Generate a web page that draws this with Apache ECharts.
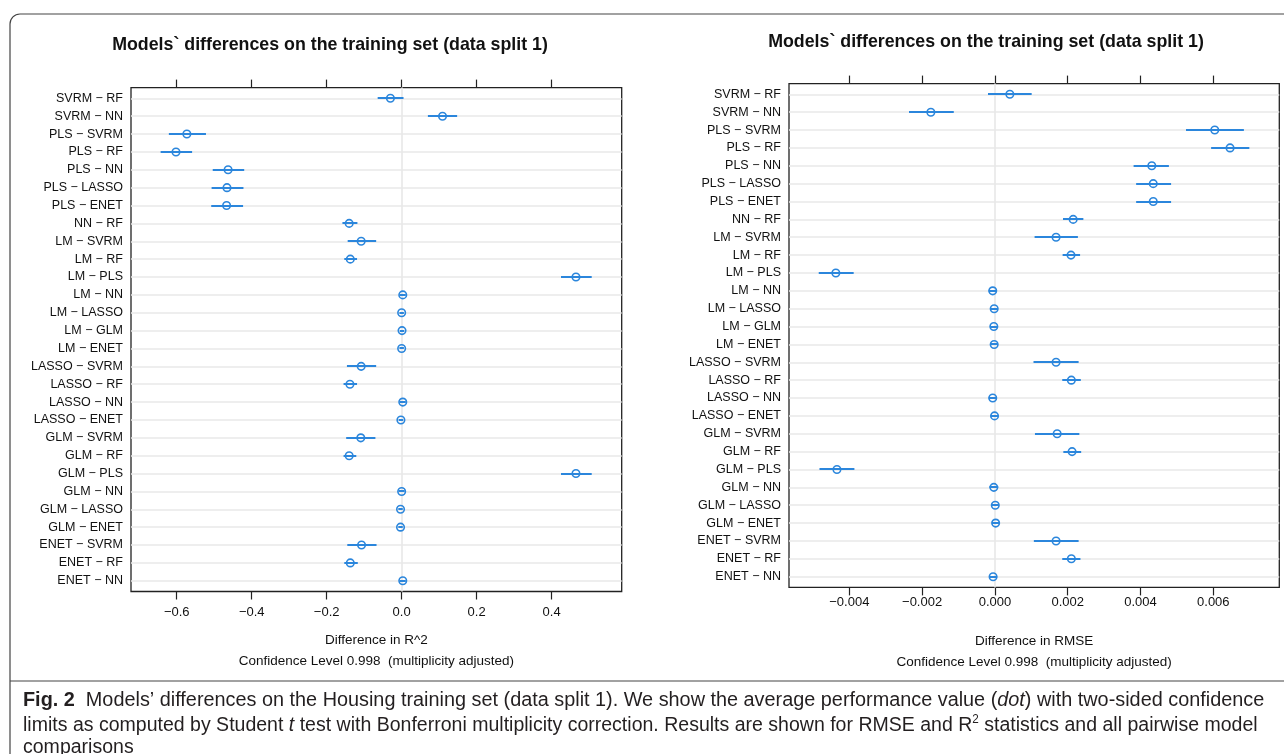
<!DOCTYPE html>
<html>
<head>
<meta charset="utf-8">
<title>Models' differences on the training set</title>
<script src="https://cdn.jsdelivr.net/npm/echarts@6.0.0/dist/echarts.min.js"></script>
<style>
  html, body { margin: 0; padding: 0; background: #fff; }
  #main { width: 1284px; height: 754px; }
</style>
</head>
<body>
<div id="main"></div>
<script>
// pairwise comparisons, top row first
const pairs = [
  'SVRM − RF', 'SVRM − NN', 'PLS − SVRM', 'PLS − RF', 'PLS − NN', 'PLS − LASSO', 'PLS − ENET',
  'NN − RF', 'LM − SVRM', 'LM − RF', 'LM − PLS', 'LM − NN', 'LM − LASSO', 'LM − GLM', 'LM − ENET',
  'LASSO − SVRM', 'LASSO − RF', 'LASSO − NN', 'LASSO − ENET', 'GLM − SVRM', 'GLM − RF', 'GLM − PLS',
  'GLM − NN', 'GLM − LASSO', 'GLM − ENET', 'ENET − SVRM', 'ENET − RF', 'ENET − NN'
];

// difference in R^2
const r2Mean = [-0.030, 0.109, -0.573, -0.602, -0.463, -0.466, -0.467, -0.140, -0.108, -0.137, 0.465, 0.003, 0.000, 0.001,
  0.000, -0.108, -0.138, 0.003, -0.002, -0.109, -0.140, 0.465, 0.000, -0.003, -0.003, -0.107, -0.137, 0.003];
const r2Lower = [-0.064, 0.070, -0.621, -0.643, -0.504, -0.507, -0.508, -0.158, -0.144, -0.153, 0.425, -0.005, -0.006, -0.005,
  -0.006, -0.146, -0.155, -0.005, -0.008, -0.148, -0.155, 0.425, -0.008, -0.009, -0.009, -0.145, -0.153, -0.005];
const r2Upper = [0.005, 0.148, -0.522, -0.559, -0.420, -0.422, -0.423, -0.118, -0.068, -0.119, 0.507, 0.011, 0.006, 0.007,
  0.006, -0.068, -0.119, 0.011, 0.004, -0.070, -0.121, 0.507, 0.008, 0.003, 0.003, -0.067, -0.117, 0.011];

// difference in RMSE
const rmseMean = [0.00041, -0.00176, 0.00604, 0.00646, 0.00431, 0.00435, 0.00435, 0.00215, 0.00168, 0.00209, -0.00437,
  -0.00006, -0.00002, -0.00003, -0.00002, 0.00168, 0.00210, -0.00006, -0.00001, 0.00171, 0.00212, -0.00434,
  -0.00003, 0.00001, 0.00002, 0.00168, 0.00210, -0.00005];
const rmseLower = [-0.00019, -0.00236, 0.00525, 0.00594, 0.00381, 0.00388, 0.00388, 0.00187, 0.00109, 0.00186, -0.00484,
  -0.00017, -0.00012, -0.00013, -0.00012, 0.00106, 0.00185, -0.00017, -0.00011, 0.00110, 0.00188, -0.00482,
  -0.00015, -0.00009, -0.00008, 0.00107, 0.00185, -0.00016];
const rmseUpper = [0.00101, -0.00113, 0.00684, 0.00699, 0.00478, 0.00484, 0.00484, 0.00243, 0.00228, 0.00234, -0.00388,
  0.00005, 0.00008, 0.00007, 0.00008, 0.00230, 0.00236, 0.00005, 0.00009, 0.00232, 0.00237, -0.00386,
  0.00009, 0.00011, 0.00012, 0.00230, 0.00235, 0.00006];

const r2Ticks = [-0.6, -0.4, -0.2, 0.0, 0.2, 0.4];
const rmseTicks = [-0.004, -0.002, 0.000, 0.002, 0.004, 0.006];

const rows = pairs.map((p, i) => i);
const blue = '#2b86dc';
const font = '"Liberation Sans", Arial, Helvetica, sans-serif';
const chart = echarts.init(document.getElementById('main'));

function minusFmt(digits) {
  return function (v) {
    const s = Math.abs(v).toFixed(digits);
    return (v < -1e-12 ? '−' : '') + s;
  };
}

function xAxes(grid, min, max, ticks, digits, name, nameGap, labelMargin) {
  const tickStyle = { show: true, inside: false, length: 8, customValues: ticks, lineStyle: { color: '#222', width: 1.2 } };
  const bottom = {
    type: 'value', gridIndex: grid, position: 'bottom', min: min, max: max,
    axisLine: { show: false, onZero: false },
    axisTick: tickStyle,
    axisLabel: { customValues: ticks, formatter: minusFmt(digits), color: '#111', fontSize: 13, fontFamily: font, margin: labelMargin },
    splitLine: { show: false },
    name: name, nameLocation: 'middle', nameGap: nameGap,
    nameTextStyle: { color: '#111', fontSize: 13.5, fontFamily: font, lineHeight: 21, verticalAlign: 'top' }
  };
  const top = {
    type: 'value', gridIndex: grid, position: 'top', min: min, max: max,
    axisLine: { show: false, onZero: false },
    axisTick: tickStyle,
    axisLabel: { show: false },
    splitLine: { show: false }
  };
  return [bottom, top];
}

function yAxis(grid) {
  return {
    type: 'value', gridIndex: grid, inverse: true, min: -0.6, max: pairs.length - 0.4,
    axisLine: { show: false, onZero: false },
    axisTick: { show: false },
    splitLine: { show: false },
    axisLabel: {
      customValues: rows, formatter: v => pairs[Math.round(v)],
      color: '#111', fontSize: 12.5, fontFamily: font, margin: 8
    }
  };
}

function panelSeries(grid, mean, lower, upper) {
  const xi = grid * 2;
  return [
    {
      // row reference lines and the zero line, kept under the marks
      type: 'line', xAxisIndex: xi, yAxisIndex: grid, data: [], silent: true, z: 1,
      markLine: {
        silent: true, symbol: 'none', animation: false, z: 1,
        label: { show: false },
        lineStyle: { color: '#e8e8e8', type: 'solid', width: 1.6 },
        data: rows.map(i => ({ yAxis: i })).concat([{ xAxis: 0 }])
      }
    },
    {
      type: 'custom', xAxisIndex: xi, yAxisIndex: grid, z: 6, silent: true,
      data: rows.map(i => [lower[i], upper[i], i]),
      encode: { x: [0, 1], y: 2 },
      renderItem: function (params, api) {
        const a = api.coord([api.value(0), api.value(2)]);
        const b = api.coord([api.value(1), api.value(2)]);
        const y = Math.round(a[1]);
        return {
          type: 'line',
          shape: { x1: a[0], y1: y, x2: b[0], y2: y },
          style: { stroke: blue, lineWidth: 2 }
        };
      }
    },
    {
      type: 'scatter', xAxisIndex: xi, yAxisIndex: grid, z: 7, silent: true,
      data: rows.map(i => [mean[i], i]),
      symbol: 'circle', symbolSize: 7.5,
      itemStyle: { color: 'rgba(255,255,255,0)', borderColor: blue, borderWidth: 1.6, opacity: 1 }
    }
  ];
}

const titleText = 'Models` differences on the training set (data split 1)';
const captionFont = '"Liberation Sans", Arial, sans-serif';
const captionSize = 20;
const captionLines = [
  'Fig. 2  Models’ differences on the Housing training set (data split 1). We show the average performance value (dot) with two-sided confidence',
  'limits as computed by Student t test with Bonferroni multiplicity correction. Results are shown for RMSE and R2 statistics and all pairwise model'
];

// squeeze the caption to the column width, like the condensed journal face
const ctx = document.createElement('canvas').getContext('2d');
ctx.font = captionSize + 'px ' + captionFont;
const captionScale = captionLines.map(t => 1239 / ctx.measureText(t).width);

const option = {
  animation: false,
  backgroundColor: '#fff',
  grid: [
    { left: 131, top: 87.6, width: 490.7, height: 503.9, show: true, borderColor: '#222', borderWidth: 1.3, outerBoundsMode: 'none' },
    { left: 789, top: 83.6, width: 490.3, height: 503.8, show: true, borderColor: '#222', borderWidth: 1.3, outerBoundsMode: 'none' }
  ],
  xAxis: xAxes(0, -0.722, 0.587, r2Ticks, 1, 'Difference in R^2\nConfidence Level 0.998  (multiplicity adjusted)', 38, 14)
    .concat(xAxes(1, -0.005657, 0.007813, rmseTicks, 3, 'Difference in RMSE\nConfidence Level 0.998  (multiplicity adjusted)', 43, 9)),
  yAxis: [yAxis(0), yAxis(1)],
  series: panelSeries(0, r2Mean, r2Lower, r2Upper).concat(panelSeries(1, rmseMean, rmseLower, rmseUpper)),
  graphic: [
    {
      type: 'rect', silent: true, z: 0,
      shape: { x: 10, y: 14, width: 1400, height: 800, r: 10 },
      style: { fill: 'none', stroke: '#444', lineWidth: 1.2 }
    },
    {
      type: 'line', silent: true,
      shape: { x1: 10, y1: 681, x2: 1284, y2: 681 },
      style: { stroke: '#444', lineWidth: 1.2 }
    },
    {
      type: 'text', x: 330, y: 45,
      style: { text: titleText, align: 'center', verticalAlign: 'middle', font: 'bold 17.8px ' + font, fill: '#111' }
    },
    {
      type: 'text', x: 986, y: 42,
      style: { text: titleText, align: 'center', verticalAlign: 'middle', font: 'bold 17.8px ' + font, fill: '#111' }
    },
    {
      type: 'text', x: 23, y: 700, scaleX: captionScale[0],
      style: {
        text: '{b|Fig. 2}  Models’ differences on the Housing training set (data split 1). We show the average performance value ({i|dot}) with two-sided confidence',
        verticalAlign: 'middle', fill: '#231f20', font: captionSize + 'px ' + captionFont,
        rich: {
          b: { fontWeight: 'bold', fontSize: captionSize, fontFamily: captionFont, fill: '#231f20' },
          i: { fontStyle: 'italic', fontSize: captionSize, fontFamily: captionFont, fill: '#231f20' }
        }
      }
    },
    {
      type: 'text', x: 23, y: 725, scaleX: captionScale[1],
      style: {
        text: 'limits as computed by Student {i|t} test with Bonferroni multiplicity correction. Results are shown for RMSE and R{sup|2} statistics and all pairwise model',
        verticalAlign: 'middle', fill: '#231f20', font: captionSize + 'px ' + captionFont,
        rich: {
          i: { fontStyle: 'italic', fontSize: captionSize, fontFamily: captionFont, fill: '#231f20' },
          sup: { fontSize: 12, fontFamily: captionFont, fill: '#231f20', verticalAlign: 'top', padding: [0, 0, 10, 0] }
        }
      }
    },
    {
      type: 'text', x: 23, y: 747, scaleX: captionScale[1],
      style: { text: 'comparisons', verticalAlign: 'middle', fill: '#231f20', font: captionSize + 'px ' + captionFont }
    }
  ]
};

chart.setOption(option);
</script>
</body>
</html>
